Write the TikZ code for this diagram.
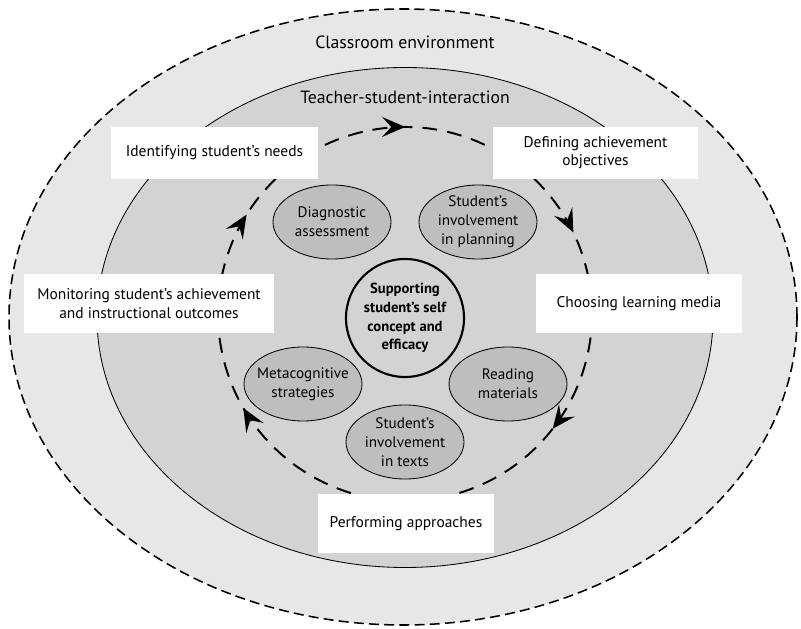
\documentclass[tikz,border=0pt]{standalone}
\usepackage{fontspec}
\setmainfont{PT Sans}
\usetikzlibrary{shapes.geometric, arrows.meta, decorations.markings}
\definecolor{outergray}{HTML}{E6E7E8}
\definecolor{innergray}{HTML}{D1D3D4}
\definecolor{ovalgray}{HTML}{BCBEC0}
\tikzset{
  loopmark/.style={decoration={markings,
    mark=at position 0.028 with {\arrow{Stealth[length=5.8mm,width=5mm,inset=2.3mm]}},
    mark=at position 0.206 with {\arrow{Stealth[length=5.8mm,width=5mm,inset=2.3mm]}},
    mark=at position 0.383 with {\arrow{Stealth[length=5.8mm,width=5mm,inset=2.3mm]}},
    mark=at position 0.694 with {\arrow{Stealth[length=5.8mm,width=5mm,inset=2.3mm]}},
    mark=at position 0.867 with {\arrow{Stealth[length=5.8mm,width=5mm,inset=2.3mm]}}},
    postaction={decorate}}
}

\begin{document}
\begin{tikzpicture}[x=0.25mm, y=0.25mm,
  every node/.style={font=\fontsize{11pt}{13pt}\selectfont},
  taskbox/.style={fill=white, align=center, inner sep=0pt, minimum height=13mm},
  practice/.style={ellipse, draw, line width=0.6pt, fill=ovalgray, minimum width=29.5mm, minimum height=18.5mm, inner sep=0pt},
  practicetext/.style={align=center, font=\fontsize{10.8pt}{13.5pt}\selectfont}]
\useasboundingbox (0,0) rectangle (801,629);
% environment and interaction
\draw[fill=outergray, line width=1.1pt, dash pattern=on 2.5mm off 1.3mm] (403,312) ellipse [x radius=394, y radius=308];
\draw[fill=innergray, line width=0.6pt] (405,311.5) ellipse [x radius=308, y radius=250];
\node[font=\fontsize{12.6pt}{15pt}\selectfont] (classroom) at (405,587) {Classroom environment};
\node[font=\fontsize{12.6pt}{15pt}\selectfont] (interaction) at (405,532) {Teacher-student-interaction};
% cycle
\coordinate (loopc) at (405,315);
\draw[line width=1.4pt, dash pattern=on 3.75mm off 2.5mm, loopmark] (loopc) ++(100:187) arc[start angle=100, end angle=-260, radius=187];
% practices
\node[practice, label={[practicetext]center:Diagnostic\\assessment}] (diagnostic) at (332,407) {};
\node[practice, label={[practicetext]center:Student’s\\involvement\\in planning}] (planning) at (478,407) {};
\node[practice, label={[practicetext]center:Metacognitive\\strategies}] (metacog) at (303,245) {};
\node[practice, label={[practicetext]center:Reading\\materials}] (reading) at (508,245) {};
\node[practice, label={[practicetext]center:Student’s\\involvement\\in texts}] (texts) at (405,187) {};
\node[circle, draw, line width=1.5pt, fill=innergray, minimum size=29.5mm, inner sep=0pt,
  label={[align=center, font=\fontsize{10.4pt}{13.4pt}\selectfont\bfseries]center:Supporting\\student’s self\\concept and\\efficacy}] (selfconcept) at (405,311) {};
% steps
\node[taskbox, minimum width=51.75mm] (needs) at (214.5,476) {Identifying student’s needs};
\node[taskbox, minimum width=51.25mm] (objectives) at (595.5,476) {Defining achievement\\objectives};
\node[taskbox, minimum width=51.5mm, minimum height=14.75mm] (media) at (639,325.5) {Choosing learning media};
\node[taskbox, minimum width=44mm, minimum height=14.75mm] (approaches) at (406,105.5) {Performing approaches};
\node[taskbox, minimum width=62.5mm, minimum height=14.75mm] (monitoring) at (149,325.5) {Monitoring student’s achievement\\and instructional outcomes};
\end{tikzpicture}
\end{document}
